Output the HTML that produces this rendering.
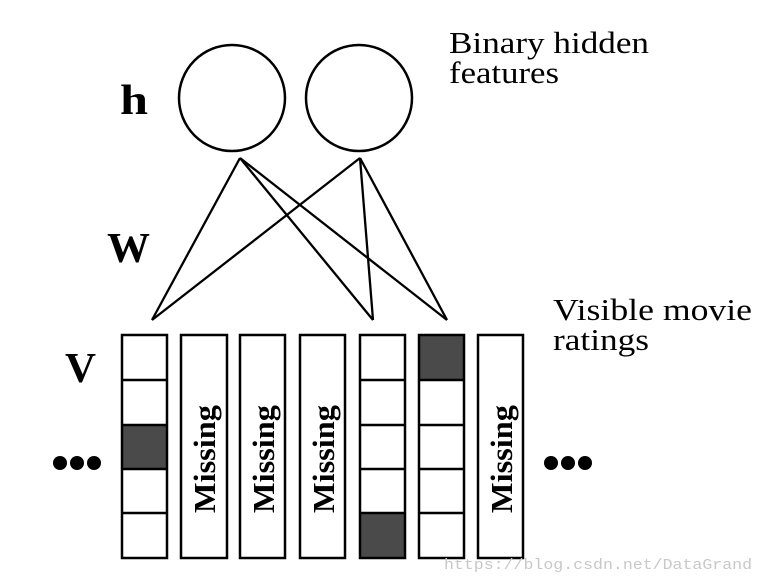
<!DOCTYPE html>
<html><head><meta charset="utf-8"><style>
html,body{margin:0;padding:0;background:#fff;}
svg{display:block;}
</style></head><body>
<svg width="765" height="582" viewBox="0 0 765 582" xmlns="http://www.w3.org/2000/svg" font-family="Liberation Serif, serif">
<rect width="765" height="582" fill="#fff"/>
<circle cx="232" cy="98" r="53" fill="none" stroke="#000" stroke-width="2.5"/>
<circle cx="359" cy="98" r="53" fill="none" stroke="#000" stroke-width="2.5"/>
<g stroke="#000" stroke-width="2.3" fill="none">
<line x1="240" y1="158" x2="152" y2="320"/>
<line x1="240" y1="158" x2="373" y2="320"/>
<line x1="240" y1="158" x2="447" y2="320"/>
<line x1="360" y1="158" x2="152" y2="320"/>
<line x1="360" y1="158" x2="373" y2="320"/>
<line x1="360" y1="158" x2="447" y2="320"/>
</g>
<text x="120" y="114" font-size="42" font-weight="bold" textLength="28" lengthAdjust="spacingAndGlyphs">h</text>
<text x="107" y="262" font-size="42" font-weight="bold" textLength="43" lengthAdjust="spacingAndGlyphs">W</text>
<text x="65" y="382" font-size="42" font-weight="bold" textLength="31" lengthAdjust="spacingAndGlyphs">V</text>
<g fill="#000">
<circle cx="60" cy="463" r="7"/><circle cx="77" cy="463" r="7"/><circle cx="94" cy="463" r="7"/>
<circle cx="551" cy="463" r="7"/><circle cx="568" cy="463" r="7"/><circle cx="585" cy="463" r="7"/>
</g>
<text x="449" y="53" font-size="31" textLength="200" lengthAdjust="spacingAndGlyphs">Binary hidden</text>
<text x="449" y="83" font-size="31" textLength="110" lengthAdjust="spacingAndGlyphs">features</text>
<text x="553" y="320" font-size="31" textLength="199" lengthAdjust="spacingAndGlyphs">Visible movie</text>
<text x="553" y="350" font-size="31" textLength="96" lengthAdjust="spacingAndGlyphs">ratings</text>
<rect x="122" y="425" width="45" height="44" fill="#4a4a4a"/>
<rect x="360" y="513" width="45" height="45" fill="#4a4a4a"/>
<rect x="419" y="335" width="45" height="45" fill="#4a4a4a"/>
<g stroke="#000" stroke-width="2.5" fill="none">
<rect x="122" y="335" width="45" height="223"/>
<rect x="181" y="335" width="46" height="223"/>
<rect x="240" y="335" width="45" height="223"/>
<rect x="300" y="335" width="45" height="223"/>
<rect x="360" y="335" width="45" height="223"/>
<rect x="419" y="335" width="45" height="223"/>
<rect x="478" y="335" width="45" height="223"/>
<path d="M122 380H167M122 425H167M122 469H167M122 513H167"/>
<path d="M360 380H405M360 425H405M360 469H405M360 513H405"/>
<path d="M419 380H464M419 425H464M419 469H464M419 513H464"/>
</g>
<g font-size="31" font-weight="bold">
<text transform="translate(215,513) rotate(-90)" textLength="108" lengthAdjust="spacingAndGlyphs">Missing</text>
<text transform="translate(274,513) rotate(-90)" textLength="108" lengthAdjust="spacingAndGlyphs">Missing</text>
<text transform="translate(334,513) rotate(-90)" textLength="108" lengthAdjust="spacingAndGlyphs">Missing</text>
<text transform="translate(512,513) rotate(-90)" textLength="108" lengthAdjust="spacingAndGlyphs">Missing</text>
</g>
<text x="444" y="569" font-family="Liberation Mono, monospace" font-size="15" fill="#c8c8c8" textLength="308" lengthAdjust="spacingAndGlyphs">https://blog.csdn.net/DataGrand</text>
</svg>
</body></html>
